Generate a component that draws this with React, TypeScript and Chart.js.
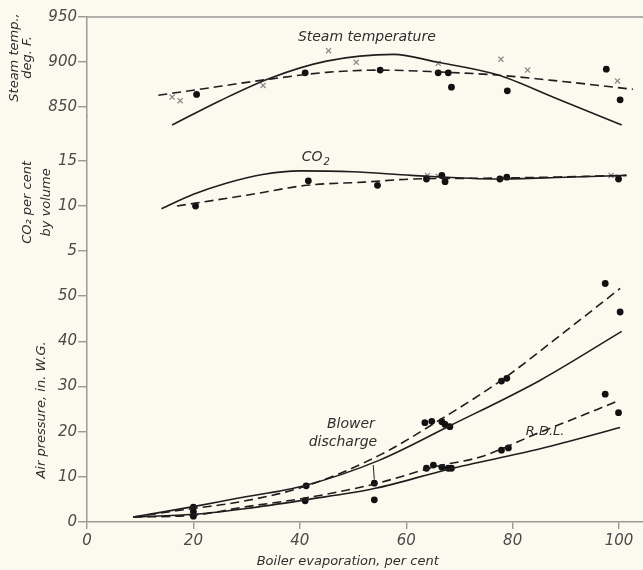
import React, { useEffect, useRef } from "react";
import { Chart, registerables } from "chart.js";

Chart.register(...registerables);

// ---------- tick labels ----------
const xTickValues = [0, 20, 40, 60, 80, 100];
const steamTickValues = [850, 900, 950];
const co2TickValues = [5, 10, 15];
const airTickValues = [0, 10, 20, 30, 40, 50];

// ---------- Steam temperature, deg F ----------
const steamCurveSolid = [[16, 830], [25, 857], [34.4, 882], [45, 901], [57.6, 908.5], [65.7, 900], [77, 886], [88, 860], [100.5, 830]];
const steamCurveDashed = [[13.4, 863], [25, 873], [34.4, 881], [45, 888.5], [55, 891], [66, 889], [77, 885.5], [90, 878], [102.6, 869.7]];
const steamDots = [[20.6, 864], [41, 888], [55.1, 891], [66, 888], [67.9, 888], [68.5, 872], [79, 868], [97.6, 892], [100.2, 858]];
const steamCrosses = [[16, 861], [17.5, 857], [33.1, 874], [45.4, 912.6], [50.6, 899.6], [66, 898.5], [77.8, 903], [82.8, 891], [99.7, 879]];

// ---------- CO2, per cent by volume ----------
const co2CurveSolid = [[14, 9.7], [20, 11.3], [26, 12.5], [33, 13.5], [40, 13.9], [50, 13.8], [61, 13.4], [77, 13.0], [90, 13.2], [101.4, 13.4]];
const co2CurveDashed = [[16.9, 10.0], [30, 11.2], [41.3, 12.3], [52, 12.65], [61.3, 13.0], [77, 13.1], [101.4, 13.4]];
const co2Dots = [[20.4, 10.0], [41.6, 12.8], [54.6, 12.3], [63.8, 13.0], [66.7, 13.4], [67.3, 12.7], [77.6, 13.0], [78.9, 13.2], [99.9, 13.0]];
const co2Crosses = [[64, 13.4], [66, 13.3], [98.5, 13.4]];

// ---------- Air pressure, in. W.G. ----------
const blowerCurveSolid = [[8.7, 1.1], [20, 3.4], [28, 5.2], [41, 8.1], [55, 13.7], [68.2, 21.3], [85.2, 31.4], [100.5, 42.2]];
const blowerCurveDashed = [[8.7, 1.1], [20, 3.0], [28, 4.3], [41, 7.9], [55, 14.8], [66.3, 22.6], [77.9, 31.4], [90, 42.3], [100.2, 51.7]];
const blowerDots = [[20, 3.3], [41.2, 8.0], [63.5, 22.0], [64.8, 22.3], [66.7, 22.2], [67.3, 21.6], [68.2, 21.1], [77.9, 31.2], [78.9, 31.8], [97.4, 52.8], [100.2, 46.5]];
const rdlCurveSolid = [[8.7, 1.1], [20, 1.7], [30, 3.0], [41, 4.9], [54, 7.4], [68, 11.7], [85.2, 16.2], [100.2, 20.9]];
const rdlCurveDashed = [[8.7, 1.1], [20, 1.5], [30, 3.4], [41, 5.3], [54, 8.4], [66, 12.4], [73.9, 14.4], [85, 19.8], [89.5, 21.9], [99.4, 26.6]];
const rdlDots = [[20, 2.3], [20, 1.3], [41, 4.7], [54, 8.6], [54, 4.9], [63.8, 11.9], [65.1, 12.6], [66.7, 12.1], [67.9, 11.9], [68.5, 11.9], [77.9, 15.9], [79.2, 16.4], [97.4, 28.3], [99.9, 24.2]];

// ---------- styles ----------
const BG = "#fcfaef";
const INK = "#1e1e1e";
const AXIS = "#9a9a96";
const TEXT = "#2e2e2e";
const TICK_TEXT = "#4a4a4a";
const FAMILY = "'DejaVu Sans', 'Liberation Sans', sans-serif";

const toXY = (a: number[][]) => a.map(([x, y]) => ({ x, y }));

const curve = (data: number[][], yAxisID: string, dashed: boolean) => ({
  data: toXY(data),
  yAxisID,
  clip: false,
  showLine: true,
  pointRadius: 0,
  borderColor: INK,
  borderWidth: 1.6,
  borderDash: dashed ? [9, 5] : [],
  cubicInterpolationMode: "monotone" as const,
  fill: false,
});

const dots = (data: number[][], yAxisID: string) => ({
  data: toXY(data),
  yAxisID,
  clip: false,
  showLine: false,
  pointRadius: 3.4,
  pointBackgroundColor: "#111",
  pointBorderColor: "#111",
  pointBorderWidth: 0,
  pointStyle: "circle" as const,
});

const crosses = (data: number[][], yAxisID: string) => ({
  data: toXY(data),
  yAxisID,
  clip: false,
  showLine: false,
  pointRadius: 3.6,
  pointBorderColor: "#8a8a8a",
  pointBackgroundColor: "#8a8a8a",
  pointBorderWidth: 1.3,
  pointStyle: "crossRot" as const,
});

const yScale = (min: number, max: number, weight: number, ticks: number[]) => ({
  type: "linear" as const,
  position: "left" as const,
  stack: "left",
  stackWeight: weight,
  min,
  max,
  afterBuildTicks: (s: any) => {
    s.ticks = ticks.map((v) => ({ value: v }));
  },
  afterFit: (s: any) => {
    s.width = 87;
    s.paddingTop = 0;
    s.paddingBottom = 0;
  },
  grid: { drawOnChartArea: false, drawTicks: true, tickLength: 9, color: AXIS, lineWidth: 1.4 },
  border: { color: AXIS, width: 1.5 },
  ticks: { font: { family: FAMILY, size: 15, style: "italic" as const }, color: TICK_TEXT, padding: 1 },
});

const vText = (ctx: CanvasRenderingContext2D, lines: string[], cx: number, cy: number, gap: number) => {
  ctx.save();
  ctx.translate(cx, cy);
  ctx.rotate(-Math.PI / 2);
  lines.forEach((l, i) => ctx.fillText(l, 0, (i - (lines.length - 1) / 2) * gap));
  ctx.restore();
};

const decor = {
  id: "decor",
  beforeDraw(chart: any) {
    const { ctx, width, height } = chart;
    ctx.save();
    ctx.fillStyle = BG;
    ctx.fillRect(0, 0, width, height);
    ctx.restore();
  },
  afterDraw(chart: any) {
    const { ctx, chartArea, scales } = chart;
    const x = scales.x, ys = scales.ySteam, yc = scales.yCO2, ya = scales.yAir;
    ctx.save();
    // top frame line
    ctx.strokeStyle = AXIS;
    ctx.lineWidth = 1.5;
    ctx.beginPath();
    ctx.moveTo(chartArea.left, chartArea.top);
    ctx.lineTo(chartArea.right, chartArea.top);
    ctx.stroke();

    // leader from label to blower curve
    ctx.strokeStyle = INK;
    ctx.lineWidth = 1;
    ctx.beginPath();
    ctx.moveTo(x.getPixelForValue(53.8), ya.getPixelForValue(12.6));
    ctx.lineTo(x.getPixelForValue(54), ya.getPixelForValue(9.4));
    ctx.stroke();

    ctx.fillStyle = TEXT;
    ctx.textAlign = "center";
    ctx.textBaseline = "middle";
    ctx.font = `italic 14px ${FAMILY}`;
    ctx.fillText("Steam temperature", x.getPixelForValue(52.6), ys.getPixelForValue(927.5));
    ctx.fillText("Blower", x.getPixelForValue(49.6), ya.getPixelForValue(21.6));
    ctx.fillText("discharge", x.getPixelForValue(48.1), ya.getPixelForValue(17.6));
    ctx.font = `italic 13px ${FAMILY}`;
    ctx.fillText("R.D.L.", x.getPixelForValue(86.1), ya.getPixelForValue(19.9));

    // CO2 label with subscript
    const cx = x.getPixelForValue(43.5), cy = yc.getPixelForValue(15.45);
    ctx.font = `italic 14px ${FAMILY}`;
    ctx.textAlign = "right";
    ctx.fillText("CO", cx + 4, cy);
    ctx.textAlign = "left";
    ctx.font = `italic 10px ${FAMILY}`;
    ctx.fillText("2", cx + 5, cy + 5);

    // axis titles
    ctx.textAlign = "center";
    ctx.font = `italic 13px ${FAMILY}`;
    vText(ctx, ["Steam temp.,", "deg. F."], 21.5, ys.getPixelForValue(905), 13);
    vText(ctx, ["CO\u2082 per cent", "by volume"], 37, yc.getPixelForValue(10.4), 19);
    vText(ctx, ["Air pressure, in. W.G."], 42, ya.getPixelForValue(24.8), 13);
    ctx.fillText("Boiler evaporation, per cent", x.getPixelForValue(49), 562);
    ctx.restore();
  },
};

export default function App() {
  const ref = useRef<HTMLCanvasElement>(null);
  useEffect(() => {
    const chart = new Chart(ref.current as HTMLCanvasElement, {
      type: "scatter",
      data: {
        datasets: [
          curve(steamCurveSolid, "ySteam", false),
          curve(steamCurveDashed, "ySteam", true),
          dots(steamDots, "ySteam"),
          crosses(steamCrosses, "ySteam"),
          curve(co2CurveSolid, "yCO2", false),
          curve(co2CurveDashed, "yCO2", true),
          dots(co2Dots, "yCO2"),
          crosses(co2Crosses, "yCO2"),
          curve(blowerCurveSolid, "yAir", false),
          curve(blowerCurveDashed, "yAir", true),
          dots(blowerDots, "yAir"),
          curve(rdlCurveSolid, "yAir", false),
          curve(rdlCurveDashed, "yAir", true),
          dots(rdlDots, "yAir"),
        ] as any,
      },
      options: {
        animation: false,
        responsive: false,
        devicePixelRatio: 1,
        layout: { autoPadding: false, padding: { top: 17, right: 0, left: 0, bottom: 0 } },
        plugins: { legend: { display: false }, tooltip: { enabled: false } },
        scales: {
          x: {
            type: "linear",
            position: "bottom",
            min: 0,
            max: 104.5,
            afterBuildTicks: (s: any) => {
              s.ticks = xTickValues.map((v) => ({ value: v }));
            },
            afterFit: (s: any) => {
              s.height = 48;
              s.paddingLeft = 0;
              s.paddingRight = 0;
            },
            grid: { drawOnChartArea: false, drawTicks: true, tickLength: 7, color: AXIS, lineWidth: 1.4 },
            border: { color: AXIS, width: 1.5 },
            ticks: { font: { family: FAMILY, size: 15, style: "italic" }, color: TICK_TEXT, padding: 3, maxRotation: 0 },
          },
          yAir: yScale(0, 60, 271, airTickValues),
          yCO2: yScale(5, 20, 135, co2TickValues),
          ySteam: yScale(840, 950, 99, steamTickValues),
        } as any,
      },
      plugins: [decor],
    });
    return () => chart.destroy();
  }, []);
  return (
    <div style={{ position: "absolute", left: 0, top: 0, width: 643, height: 570, background: BG }}>
      <canvas ref={ref} width={643} height={570} style={{ display: "block", width: 643, height: 570 }} />
    </div>
  );
}
